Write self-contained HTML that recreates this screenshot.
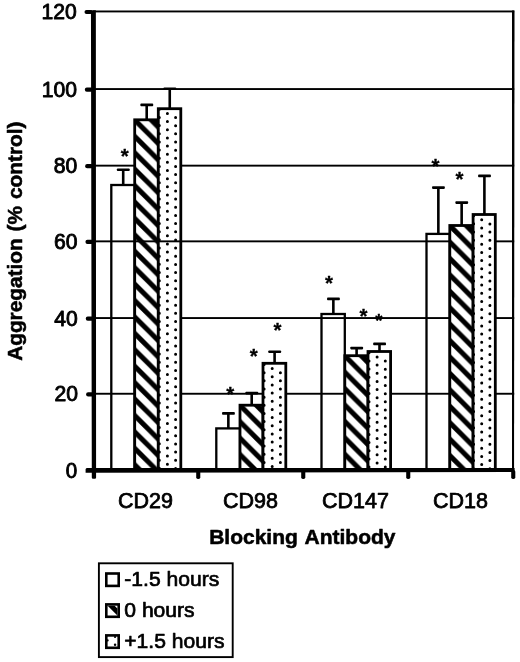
<!DOCTYPE html>
<html lang="en"><head><meta charset="utf-8"><title>Aggregation (% control) by Blocking Antibody</title>
<style>html,body{margin:0;padding:0;background:#fff}body{width:520px;height:662px;overflow:hidden}svg{display:block}text{font-family:"Liberation Sans",Arial,Helvetica,sans-serif;fill:#000;stroke:#000;stroke-width:.9px;stroke-linejoin:round}text.b{font-weight:bold;stroke-width:.55px}</style>
</head><body>
<svg width="520" height="662" viewBox="0 0 520 662">
<rect width="520" height="662" fill="#fff"/>
<rect x="93.0" y="10.50" width="421.20" height="1.9" fill="#000"/>
<rect x="93.0" y="88.10" width="421.20" height="1.9" fill="#000"/>
<rect x="93.0" y="164.70" width="421.20" height="1.9" fill="#000"/>
<rect x="93.0" y="240.40" width="421.20" height="1.9" fill="#000"/>
<rect x="93.0" y="317.10" width="421.20" height="1.9" fill="#000"/>
<rect x="93.0" y="392.80" width="421.20" height="1.9" fill="#000"/>
<path d="M512 10.4H514.5L514.05 472H512z" fill="#000"/>
<rect x="121.90" y="169.60" width="2.6" height="15.00" fill="#000"/>
<rect x="116.90" y="168.40" width="12.8" height="2.6" rx=".8" fill="#000"/>
<rect x="111.30" y="185.00" width="23.40" height="285.00" fill="none" stroke="#000" stroke-width="2.3"/>
<rect x="145.40" y="104.80" width="2.6" height="14.60" fill="#000"/>
<rect x="140.40" y="103.60" width="12.8" height="2.6" rx=".8" fill="#000"/>
<defs><pattern id="h0" patternUnits="userSpaceOnUse" x="0" y="-1.90" width="16.42" height="16.42"><rect width="16.42" height="16.42" fill="#fff"/><path d="M0 0L16.42 16.42V23.520000000000003L0 7.1z M0 -16.42L16.42 0V7.1L0 -9.320000000000002z M0 16.42L16.42 32.84V39.940000000000005L0 23.520000000000003z" fill="#000"/></pattern></defs>
<rect x="134.70" y="119.80" width="23.60" height="350.20" fill="url(#h0)" stroke="#000" stroke-width="2.8"/>
<path d="M151.70 121.00H157.10V126.40z" fill="#000"/>
<rect x="168.45" y="88.70" width="2.6" height="19.60" fill="#000"/>
<rect x="163.45" y="87.50" width="12.8" height="2.6" rx=".8" fill="#000"/>
<rect x="158.30" y="108.70" width="22.50" height="361.30" fill="#fff" stroke="#000" stroke-width="2.8"/>
<path d="M157.80 109.30a1.5 1.5 0 1 0 3 0a1.5 1.5 0 1 0 -3 0zM157.80 117.46a1.5 1.5 0 1 0 3 0a1.5 1.5 0 1 0 -3 0zM157.80 125.62a1.5 1.5 0 1 0 3 0a1.5 1.5 0 1 0 -3 0zM157.80 133.78a1.5 1.5 0 1 0 3 0a1.5 1.5 0 1 0 -3 0zM157.80 141.94a1.5 1.5 0 1 0 3 0a1.5 1.5 0 1 0 -3 0zM157.80 150.10a1.5 1.5 0 1 0 3 0a1.5 1.5 0 1 0 -3 0zM157.80 158.26a1.5 1.5 0 1 0 3 0a1.5 1.5 0 1 0 -3 0zM157.80 166.42a1.5 1.5 0 1 0 3 0a1.5 1.5 0 1 0 -3 0zM157.80 174.58a1.5 1.5 0 1 0 3 0a1.5 1.5 0 1 0 -3 0zM157.80 182.74a1.5 1.5 0 1 0 3 0a1.5 1.5 0 1 0 -3 0zM157.80 190.90a1.5 1.5 0 1 0 3 0a1.5 1.5 0 1 0 -3 0zM157.80 199.06a1.5 1.5 0 1 0 3 0a1.5 1.5 0 1 0 -3 0zM157.80 207.22a1.5 1.5 0 1 0 3 0a1.5 1.5 0 1 0 -3 0zM157.80 215.38a1.5 1.5 0 1 0 3 0a1.5 1.5 0 1 0 -3 0zM157.80 223.54a1.5 1.5 0 1 0 3 0a1.5 1.5 0 1 0 -3 0zM157.80 231.70a1.5 1.5 0 1 0 3 0a1.5 1.5 0 1 0 -3 0zM157.80 239.86a1.5 1.5 0 1 0 3 0a1.5 1.5 0 1 0 -3 0zM157.80 248.02a1.5 1.5 0 1 0 3 0a1.5 1.5 0 1 0 -3 0zM157.80 256.18a1.5 1.5 0 1 0 3 0a1.5 1.5 0 1 0 -3 0zM157.80 264.34a1.5 1.5 0 1 0 3 0a1.5 1.5 0 1 0 -3 0zM157.80 272.50a1.5 1.5 0 1 0 3 0a1.5 1.5 0 1 0 -3 0zM157.80 280.66a1.5 1.5 0 1 0 3 0a1.5 1.5 0 1 0 -3 0zM157.80 288.82a1.5 1.5 0 1 0 3 0a1.5 1.5 0 1 0 -3 0zM157.80 296.98a1.5 1.5 0 1 0 3 0a1.5 1.5 0 1 0 -3 0zM157.80 305.14a1.5 1.5 0 1 0 3 0a1.5 1.5 0 1 0 -3 0zM157.80 313.30a1.5 1.5 0 1 0 3 0a1.5 1.5 0 1 0 -3 0zM157.80 321.46a1.5 1.5 0 1 0 3 0a1.5 1.5 0 1 0 -3 0zM157.80 329.62a1.5 1.5 0 1 0 3 0a1.5 1.5 0 1 0 -3 0zM157.80 337.78a1.5 1.5 0 1 0 3 0a1.5 1.5 0 1 0 -3 0zM157.80 345.94a1.5 1.5 0 1 0 3 0a1.5 1.5 0 1 0 -3 0zM157.80 354.10a1.5 1.5 0 1 0 3 0a1.5 1.5 0 1 0 -3 0zM157.80 362.26a1.5 1.5 0 1 0 3 0a1.5 1.5 0 1 0 -3 0zM157.80 370.42a1.5 1.5 0 1 0 3 0a1.5 1.5 0 1 0 -3 0zM157.80 378.58a1.5 1.5 0 1 0 3 0a1.5 1.5 0 1 0 -3 0zM157.80 386.74a1.5 1.5 0 1 0 3 0a1.5 1.5 0 1 0 -3 0zM157.80 394.90a1.5 1.5 0 1 0 3 0a1.5 1.5 0 1 0 -3 0zM157.80 403.06a1.5 1.5 0 1 0 3 0a1.5 1.5 0 1 0 -3 0zM157.80 411.22a1.5 1.5 0 1 0 3 0a1.5 1.5 0 1 0 -3 0zM157.80 419.38a1.5 1.5 0 1 0 3 0a1.5 1.5 0 1 0 -3 0zM157.80 427.54a1.5 1.5 0 1 0 3 0a1.5 1.5 0 1 0 -3 0zM157.80 435.70a1.5 1.5 0 1 0 3 0a1.5 1.5 0 1 0 -3 0zM157.80 443.86a1.5 1.5 0 1 0 3 0a1.5 1.5 0 1 0 -3 0zM157.80 452.02a1.5 1.5 0 1 0 3 0a1.5 1.5 0 1 0 -3 0zM157.80 460.18a1.5 1.5 0 1 0 3 0a1.5 1.5 0 1 0 -3 0zM157.80 468.34a1.5 1.5 0 1 0 3 0a1.5 1.5 0 1 0 -3 0zM165.90 113.40a1.5 1.5 0 1 0 3 0a1.5 1.5 0 1 0 -3 0zM165.90 121.56a1.5 1.5 0 1 0 3 0a1.5 1.5 0 1 0 -3 0zM165.90 129.72a1.5 1.5 0 1 0 3 0a1.5 1.5 0 1 0 -3 0zM165.90 137.88a1.5 1.5 0 1 0 3 0a1.5 1.5 0 1 0 -3 0zM165.90 146.04a1.5 1.5 0 1 0 3 0a1.5 1.5 0 1 0 -3 0zM165.90 154.20a1.5 1.5 0 1 0 3 0a1.5 1.5 0 1 0 -3 0zM165.90 162.36a1.5 1.5 0 1 0 3 0a1.5 1.5 0 1 0 -3 0zM165.90 170.52a1.5 1.5 0 1 0 3 0a1.5 1.5 0 1 0 -3 0zM165.90 178.68a1.5 1.5 0 1 0 3 0a1.5 1.5 0 1 0 -3 0zM165.90 186.84a1.5 1.5 0 1 0 3 0a1.5 1.5 0 1 0 -3 0zM165.90 195.00a1.5 1.5 0 1 0 3 0a1.5 1.5 0 1 0 -3 0zM165.90 203.16a1.5 1.5 0 1 0 3 0a1.5 1.5 0 1 0 -3 0zM165.90 211.32a1.5 1.5 0 1 0 3 0a1.5 1.5 0 1 0 -3 0zM165.90 219.48a1.5 1.5 0 1 0 3 0a1.5 1.5 0 1 0 -3 0zM165.90 227.64a1.5 1.5 0 1 0 3 0a1.5 1.5 0 1 0 -3 0zM165.90 235.80a1.5 1.5 0 1 0 3 0a1.5 1.5 0 1 0 -3 0zM165.90 243.96a1.5 1.5 0 1 0 3 0a1.5 1.5 0 1 0 -3 0zM165.90 252.12a1.5 1.5 0 1 0 3 0a1.5 1.5 0 1 0 -3 0zM165.90 260.28a1.5 1.5 0 1 0 3 0a1.5 1.5 0 1 0 -3 0zM165.90 268.44a1.5 1.5 0 1 0 3 0a1.5 1.5 0 1 0 -3 0zM165.90 276.60a1.5 1.5 0 1 0 3 0a1.5 1.5 0 1 0 -3 0zM165.90 284.76a1.5 1.5 0 1 0 3 0a1.5 1.5 0 1 0 -3 0zM165.90 292.92a1.5 1.5 0 1 0 3 0a1.5 1.5 0 1 0 -3 0zM165.90 301.08a1.5 1.5 0 1 0 3 0a1.5 1.5 0 1 0 -3 0zM165.90 309.24a1.5 1.5 0 1 0 3 0a1.5 1.5 0 1 0 -3 0zM165.90 317.40a1.5 1.5 0 1 0 3 0a1.5 1.5 0 1 0 -3 0zM165.90 325.56a1.5 1.5 0 1 0 3 0a1.5 1.5 0 1 0 -3 0zM165.90 333.72a1.5 1.5 0 1 0 3 0a1.5 1.5 0 1 0 -3 0zM165.90 341.88a1.5 1.5 0 1 0 3 0a1.5 1.5 0 1 0 -3 0zM165.90 350.04a1.5 1.5 0 1 0 3 0a1.5 1.5 0 1 0 -3 0zM165.90 358.20a1.5 1.5 0 1 0 3 0a1.5 1.5 0 1 0 -3 0zM165.90 366.36a1.5 1.5 0 1 0 3 0a1.5 1.5 0 1 0 -3 0zM165.90 374.52a1.5 1.5 0 1 0 3 0a1.5 1.5 0 1 0 -3 0zM165.90 382.68a1.5 1.5 0 1 0 3 0a1.5 1.5 0 1 0 -3 0zM165.90 390.84a1.5 1.5 0 1 0 3 0a1.5 1.5 0 1 0 -3 0zM165.90 399.00a1.5 1.5 0 1 0 3 0a1.5 1.5 0 1 0 -3 0zM165.90 407.16a1.5 1.5 0 1 0 3 0a1.5 1.5 0 1 0 -3 0zM165.90 415.32a1.5 1.5 0 1 0 3 0a1.5 1.5 0 1 0 -3 0zM165.90 423.48a1.5 1.5 0 1 0 3 0a1.5 1.5 0 1 0 -3 0zM165.90 431.64a1.5 1.5 0 1 0 3 0a1.5 1.5 0 1 0 -3 0zM165.90 439.80a1.5 1.5 0 1 0 3 0a1.5 1.5 0 1 0 -3 0zM165.90 447.96a1.5 1.5 0 1 0 3 0a1.5 1.5 0 1 0 -3 0zM165.90 456.12a1.5 1.5 0 1 0 3 0a1.5 1.5 0 1 0 -3 0zM165.90 464.28a1.5 1.5 0 1 0 3 0a1.5 1.5 0 1 0 -3 0zM174.10 117.50a1.5 1.5 0 1 0 3 0a1.5 1.5 0 1 0 -3 0zM174.10 125.66a1.5 1.5 0 1 0 3 0a1.5 1.5 0 1 0 -3 0zM174.10 133.82a1.5 1.5 0 1 0 3 0a1.5 1.5 0 1 0 -3 0zM174.10 141.98a1.5 1.5 0 1 0 3 0a1.5 1.5 0 1 0 -3 0zM174.10 150.14a1.5 1.5 0 1 0 3 0a1.5 1.5 0 1 0 -3 0zM174.10 158.30a1.5 1.5 0 1 0 3 0a1.5 1.5 0 1 0 -3 0zM174.10 166.46a1.5 1.5 0 1 0 3 0a1.5 1.5 0 1 0 -3 0zM174.10 174.62a1.5 1.5 0 1 0 3 0a1.5 1.5 0 1 0 -3 0zM174.10 182.78a1.5 1.5 0 1 0 3 0a1.5 1.5 0 1 0 -3 0zM174.10 190.94a1.5 1.5 0 1 0 3 0a1.5 1.5 0 1 0 -3 0zM174.10 199.10a1.5 1.5 0 1 0 3 0a1.5 1.5 0 1 0 -3 0zM174.10 207.26a1.5 1.5 0 1 0 3 0a1.5 1.5 0 1 0 -3 0zM174.10 215.42a1.5 1.5 0 1 0 3 0a1.5 1.5 0 1 0 -3 0zM174.10 223.58a1.5 1.5 0 1 0 3 0a1.5 1.5 0 1 0 -3 0zM174.10 231.74a1.5 1.5 0 1 0 3 0a1.5 1.5 0 1 0 -3 0zM174.10 239.90a1.5 1.5 0 1 0 3 0a1.5 1.5 0 1 0 -3 0zM174.10 248.06a1.5 1.5 0 1 0 3 0a1.5 1.5 0 1 0 -3 0zM174.10 256.22a1.5 1.5 0 1 0 3 0a1.5 1.5 0 1 0 -3 0zM174.10 264.38a1.5 1.5 0 1 0 3 0a1.5 1.5 0 1 0 -3 0zM174.10 272.54a1.5 1.5 0 1 0 3 0a1.5 1.5 0 1 0 -3 0zM174.10 280.70a1.5 1.5 0 1 0 3 0a1.5 1.5 0 1 0 -3 0zM174.10 288.86a1.5 1.5 0 1 0 3 0a1.5 1.5 0 1 0 -3 0zM174.10 297.02a1.5 1.5 0 1 0 3 0a1.5 1.5 0 1 0 -3 0zM174.10 305.18a1.5 1.5 0 1 0 3 0a1.5 1.5 0 1 0 -3 0zM174.10 313.34a1.5 1.5 0 1 0 3 0a1.5 1.5 0 1 0 -3 0zM174.10 321.50a1.5 1.5 0 1 0 3 0a1.5 1.5 0 1 0 -3 0zM174.10 329.66a1.5 1.5 0 1 0 3 0a1.5 1.5 0 1 0 -3 0zM174.10 337.82a1.5 1.5 0 1 0 3 0a1.5 1.5 0 1 0 -3 0zM174.10 345.98a1.5 1.5 0 1 0 3 0a1.5 1.5 0 1 0 -3 0zM174.10 354.14a1.5 1.5 0 1 0 3 0a1.5 1.5 0 1 0 -3 0zM174.10 362.30a1.5 1.5 0 1 0 3 0a1.5 1.5 0 1 0 -3 0zM174.10 370.46a1.5 1.5 0 1 0 3 0a1.5 1.5 0 1 0 -3 0zM174.10 378.62a1.5 1.5 0 1 0 3 0a1.5 1.5 0 1 0 -3 0zM174.10 386.78a1.5 1.5 0 1 0 3 0a1.5 1.5 0 1 0 -3 0zM174.10 394.94a1.5 1.5 0 1 0 3 0a1.5 1.5 0 1 0 -3 0zM174.10 403.10a1.5 1.5 0 1 0 3 0a1.5 1.5 0 1 0 -3 0zM174.10 411.26a1.5 1.5 0 1 0 3 0a1.5 1.5 0 1 0 -3 0zM174.10 419.42a1.5 1.5 0 1 0 3 0a1.5 1.5 0 1 0 -3 0zM174.10 427.58a1.5 1.5 0 1 0 3 0a1.5 1.5 0 1 0 -3 0zM174.10 435.74a1.5 1.5 0 1 0 3 0a1.5 1.5 0 1 0 -3 0zM174.10 443.90a1.5 1.5 0 1 0 3 0a1.5 1.5 0 1 0 -3 0zM174.10 452.06a1.5 1.5 0 1 0 3 0a1.5 1.5 0 1 0 -3 0zM174.10 460.22a1.5 1.5 0 1 0 3 0a1.5 1.5 0 1 0 -3 0zM174.10 468.38a1.5 1.5 0 1 0 3 0a1.5 1.5 0 1 0 -3 0z" fill="#000"/>
<rect x="227.05" y="413.30" width="2.6" height="14.70" fill="#000"/>
<rect x="222.05" y="412.10" width="12.8" height="2.6" rx=".8" fill="#000"/>
<rect x="216.30" y="428.40" width="23.70" height="41.60" fill="none" stroke="#000" stroke-width="2.3"/>
<rect x="250.40" y="393.00" width="2.6" height="11.80" fill="#000"/>
<rect x="245.40" y="391.80" width="12.8" height="2.6" rx=".8" fill="#000"/>
<defs><pattern id="h1" patternUnits="userSpaceOnUse" x="0" y="178.20" width="16.42" height="16.42"><rect width="16.42" height="16.42" fill="#fff"/><path d="M0 0L16.42 16.42V23.520000000000003L0 7.1z M0 -16.42L16.42 0V7.1L0 -9.320000000000002z M0 16.42L16.42 32.84V39.940000000000005L0 23.520000000000003z" fill="#000"/></pattern></defs>
<rect x="240.00" y="405.20" width="23.00" height="64.80" fill="url(#h1)" stroke="#000" stroke-width="2.8"/>
<path d="M256.40 406.40H261.80V411.80z" fill="#000"/>
<rect x="273.30" y="351.70" width="2.6" height="11.20" fill="#000"/>
<rect x="268.30" y="350.50" width="12.8" height="2.6" rx=".8" fill="#000"/>
<rect x="263.00" y="363.30" width="22.80" height="106.70" fill="#fff" stroke="#000" stroke-width="2.8"/>
<path d="M262.60 364.50a1.5 1.5 0 1 0 3 0a1.5 1.5 0 1 0 -3 0zM262.60 372.66a1.5 1.5 0 1 0 3 0a1.5 1.5 0 1 0 -3 0zM262.60 380.82a1.5 1.5 0 1 0 3 0a1.5 1.5 0 1 0 -3 0zM262.60 388.98a1.5 1.5 0 1 0 3 0a1.5 1.5 0 1 0 -3 0zM262.60 397.14a1.5 1.5 0 1 0 3 0a1.5 1.5 0 1 0 -3 0zM262.60 405.30a1.5 1.5 0 1 0 3 0a1.5 1.5 0 1 0 -3 0zM262.60 413.46a1.5 1.5 0 1 0 3 0a1.5 1.5 0 1 0 -3 0zM262.60 421.62a1.5 1.5 0 1 0 3 0a1.5 1.5 0 1 0 -3 0zM262.60 429.78a1.5 1.5 0 1 0 3 0a1.5 1.5 0 1 0 -3 0zM262.60 437.94a1.5 1.5 0 1 0 3 0a1.5 1.5 0 1 0 -3 0zM262.60 446.10a1.5 1.5 0 1 0 3 0a1.5 1.5 0 1 0 -3 0zM262.60 454.26a1.5 1.5 0 1 0 3 0a1.5 1.5 0 1 0 -3 0zM262.60 462.42a1.5 1.5 0 1 0 3 0a1.5 1.5 0 1 0 -3 0zM270.70 368.60a1.5 1.5 0 1 0 3 0a1.5 1.5 0 1 0 -3 0zM270.70 376.76a1.5 1.5 0 1 0 3 0a1.5 1.5 0 1 0 -3 0zM270.70 384.92a1.5 1.5 0 1 0 3 0a1.5 1.5 0 1 0 -3 0zM270.70 393.08a1.5 1.5 0 1 0 3 0a1.5 1.5 0 1 0 -3 0zM270.70 401.24a1.5 1.5 0 1 0 3 0a1.5 1.5 0 1 0 -3 0zM270.70 409.40a1.5 1.5 0 1 0 3 0a1.5 1.5 0 1 0 -3 0zM270.70 417.56a1.5 1.5 0 1 0 3 0a1.5 1.5 0 1 0 -3 0zM270.70 425.72a1.5 1.5 0 1 0 3 0a1.5 1.5 0 1 0 -3 0zM270.70 433.88a1.5 1.5 0 1 0 3 0a1.5 1.5 0 1 0 -3 0zM270.70 442.04a1.5 1.5 0 1 0 3 0a1.5 1.5 0 1 0 -3 0zM270.70 450.20a1.5 1.5 0 1 0 3 0a1.5 1.5 0 1 0 -3 0zM270.70 458.36a1.5 1.5 0 1 0 3 0a1.5 1.5 0 1 0 -3 0zM270.70 466.52a1.5 1.5 0 1 0 3 0a1.5 1.5 0 1 0 -3 0zM278.90 372.70a1.5 1.5 0 1 0 3 0a1.5 1.5 0 1 0 -3 0zM278.90 380.86a1.5 1.5 0 1 0 3 0a1.5 1.5 0 1 0 -3 0zM278.90 389.02a1.5 1.5 0 1 0 3 0a1.5 1.5 0 1 0 -3 0zM278.90 397.18a1.5 1.5 0 1 0 3 0a1.5 1.5 0 1 0 -3 0zM278.90 405.34a1.5 1.5 0 1 0 3 0a1.5 1.5 0 1 0 -3 0zM278.90 413.50a1.5 1.5 0 1 0 3 0a1.5 1.5 0 1 0 -3 0zM278.90 421.66a1.5 1.5 0 1 0 3 0a1.5 1.5 0 1 0 -3 0zM278.90 429.82a1.5 1.5 0 1 0 3 0a1.5 1.5 0 1 0 -3 0zM278.90 437.98a1.5 1.5 0 1 0 3 0a1.5 1.5 0 1 0 -3 0zM278.90 446.14a1.5 1.5 0 1 0 3 0a1.5 1.5 0 1 0 -3 0zM278.90 454.30a1.5 1.5 0 1 0 3 0a1.5 1.5 0 1 0 -3 0zM278.90 462.46a1.5 1.5 0 1 0 3 0a1.5 1.5 0 1 0 -3 0z" fill="#000"/>
<rect x="332.05" y="298.80" width="2.6" height="14.80" fill="#000"/>
<rect x="327.05" y="297.60" width="12.8" height="2.6" rx=".8" fill="#000"/>
<rect x="321.50" y="314.00" width="23.30" height="156.00" fill="none" stroke="#000" stroke-width="2.3"/>
<rect x="355.30" y="348.00" width="2.6" height="7.30" fill="#000"/>
<rect x="350.30" y="346.80" width="12.8" height="2.6" rx=".8" fill="#000"/>
<defs><pattern id="h2" patternUnits="userSpaceOnUse" x="0" y="23.90" width="16.42" height="16.42"><rect width="16.42" height="16.42" fill="#fff"/><path d="M0 0L16.42 16.42V23.520000000000003L0 7.1z M0 -16.42L16.42 0V7.1L0 -9.320000000000002z M0 16.42L16.42 32.84V39.940000000000005L0 23.520000000000003z" fill="#000"/></pattern></defs>
<rect x="344.80" y="355.70" width="23.20" height="114.30" fill="url(#h2)" stroke="#000" stroke-width="2.8"/>
<path d="M361.40 356.90H366.80V362.30z" fill="#000"/>
<rect x="378.20" y="343.80" width="2.6" height="7.30" fill="#000"/>
<rect x="373.20" y="342.60" width="12.8" height="2.6" rx=".8" fill="#000"/>
<rect x="368.00" y="351.50" width="22.60" height="118.50" fill="#fff" stroke="#000" stroke-width="2.8"/>
<path d="M367.50 352.80a1.5 1.5 0 1 0 3 0a1.5 1.5 0 1 0 -3 0zM367.50 360.96a1.5 1.5 0 1 0 3 0a1.5 1.5 0 1 0 -3 0zM367.50 369.12a1.5 1.5 0 1 0 3 0a1.5 1.5 0 1 0 -3 0zM367.50 377.28a1.5 1.5 0 1 0 3 0a1.5 1.5 0 1 0 -3 0zM367.50 385.44a1.5 1.5 0 1 0 3 0a1.5 1.5 0 1 0 -3 0zM367.50 393.60a1.5 1.5 0 1 0 3 0a1.5 1.5 0 1 0 -3 0zM367.50 401.76a1.5 1.5 0 1 0 3 0a1.5 1.5 0 1 0 -3 0zM367.50 409.92a1.5 1.5 0 1 0 3 0a1.5 1.5 0 1 0 -3 0zM367.50 418.08a1.5 1.5 0 1 0 3 0a1.5 1.5 0 1 0 -3 0zM367.50 426.24a1.5 1.5 0 1 0 3 0a1.5 1.5 0 1 0 -3 0zM367.50 434.40a1.5 1.5 0 1 0 3 0a1.5 1.5 0 1 0 -3 0zM367.50 442.56a1.5 1.5 0 1 0 3 0a1.5 1.5 0 1 0 -3 0zM367.50 450.72a1.5 1.5 0 1 0 3 0a1.5 1.5 0 1 0 -3 0zM367.50 458.88a1.5 1.5 0 1 0 3 0a1.5 1.5 0 1 0 -3 0zM367.50 467.04a1.5 1.5 0 1 0 3 0a1.5 1.5 0 1 0 -3 0zM375.60 356.90a1.5 1.5 0 1 0 3 0a1.5 1.5 0 1 0 -3 0zM375.60 365.06a1.5 1.5 0 1 0 3 0a1.5 1.5 0 1 0 -3 0zM375.60 373.22a1.5 1.5 0 1 0 3 0a1.5 1.5 0 1 0 -3 0zM375.60 381.38a1.5 1.5 0 1 0 3 0a1.5 1.5 0 1 0 -3 0zM375.60 389.54a1.5 1.5 0 1 0 3 0a1.5 1.5 0 1 0 -3 0zM375.60 397.70a1.5 1.5 0 1 0 3 0a1.5 1.5 0 1 0 -3 0zM375.60 405.86a1.5 1.5 0 1 0 3 0a1.5 1.5 0 1 0 -3 0zM375.60 414.02a1.5 1.5 0 1 0 3 0a1.5 1.5 0 1 0 -3 0zM375.60 422.18a1.5 1.5 0 1 0 3 0a1.5 1.5 0 1 0 -3 0zM375.60 430.34a1.5 1.5 0 1 0 3 0a1.5 1.5 0 1 0 -3 0zM375.60 438.50a1.5 1.5 0 1 0 3 0a1.5 1.5 0 1 0 -3 0zM375.60 446.66a1.5 1.5 0 1 0 3 0a1.5 1.5 0 1 0 -3 0zM375.60 454.82a1.5 1.5 0 1 0 3 0a1.5 1.5 0 1 0 -3 0zM375.60 462.98a1.5 1.5 0 1 0 3 0a1.5 1.5 0 1 0 -3 0zM383.80 361.00a1.5 1.5 0 1 0 3 0a1.5 1.5 0 1 0 -3 0zM383.80 369.16a1.5 1.5 0 1 0 3 0a1.5 1.5 0 1 0 -3 0zM383.80 377.32a1.5 1.5 0 1 0 3 0a1.5 1.5 0 1 0 -3 0zM383.80 385.48a1.5 1.5 0 1 0 3 0a1.5 1.5 0 1 0 -3 0zM383.80 393.64a1.5 1.5 0 1 0 3 0a1.5 1.5 0 1 0 -3 0zM383.80 401.80a1.5 1.5 0 1 0 3 0a1.5 1.5 0 1 0 -3 0zM383.80 409.96a1.5 1.5 0 1 0 3 0a1.5 1.5 0 1 0 -3 0zM383.80 418.12a1.5 1.5 0 1 0 3 0a1.5 1.5 0 1 0 -3 0zM383.80 426.28a1.5 1.5 0 1 0 3 0a1.5 1.5 0 1 0 -3 0zM383.80 434.44a1.5 1.5 0 1 0 3 0a1.5 1.5 0 1 0 -3 0zM383.80 442.60a1.5 1.5 0 1 0 3 0a1.5 1.5 0 1 0 -3 0zM383.80 450.76a1.5 1.5 0 1 0 3 0a1.5 1.5 0 1 0 -3 0zM383.80 458.92a1.5 1.5 0 1 0 3 0a1.5 1.5 0 1 0 -3 0zM383.80 467.08a1.5 1.5 0 1 0 3 0a1.5 1.5 0 1 0 -3 0z" fill="#000"/>
<rect x="437.05" y="187.50" width="2.6" height="46.00" fill="#000"/>
<rect x="432.05" y="186.30" width="12.8" height="2.6" rx=".8" fill="#000"/>
<rect x="426.50" y="233.90" width="23.30" height="236.10" fill="none" stroke="#000" stroke-width="2.3"/>
<rect x="460.35" y="202.50" width="2.6" height="22.60" fill="#000"/>
<rect x="455.35" y="201.30" width="12.8" height="2.6" rx=".8" fill="#000"/>
<defs><pattern id="h3" patternUnits="userSpaceOnUse" x="0" y="-211.30" width="16.42" height="16.42"><rect width="16.42" height="16.42" fill="#fff"/><path d="M0 0L16.42 16.42V23.520000000000003L0 7.1z M0 -16.42L16.42 0V7.1L0 -9.320000000000002z M0 16.42L16.42 32.84V39.940000000000005L0 23.520000000000003z" fill="#000"/></pattern></defs>
<rect x="449.80" y="225.50" width="23.30" height="244.50" fill="url(#h3)" stroke="#000" stroke-width="2.8"/>
<path d="M466.50 226.70H471.90V232.10z" fill="#000"/>
<rect x="483.10" y="175.80" width="2.6" height="38.30" fill="#000"/>
<rect x="478.10" y="174.60" width="12.8" height="2.6" rx=".8" fill="#000"/>
<rect x="473.10" y="214.50" width="22.20" height="255.50" fill="#fff" stroke="#000" stroke-width="2.8"/>
<path d="M472.10 215.70a1.5 1.5 0 1 0 3 0a1.5 1.5 0 1 0 -3 0zM472.10 223.86a1.5 1.5 0 1 0 3 0a1.5 1.5 0 1 0 -3 0zM472.10 232.02a1.5 1.5 0 1 0 3 0a1.5 1.5 0 1 0 -3 0zM472.10 240.18a1.5 1.5 0 1 0 3 0a1.5 1.5 0 1 0 -3 0zM472.10 248.34a1.5 1.5 0 1 0 3 0a1.5 1.5 0 1 0 -3 0zM472.10 256.50a1.5 1.5 0 1 0 3 0a1.5 1.5 0 1 0 -3 0zM472.10 264.66a1.5 1.5 0 1 0 3 0a1.5 1.5 0 1 0 -3 0zM472.10 272.82a1.5 1.5 0 1 0 3 0a1.5 1.5 0 1 0 -3 0zM472.10 280.98a1.5 1.5 0 1 0 3 0a1.5 1.5 0 1 0 -3 0zM472.10 289.14a1.5 1.5 0 1 0 3 0a1.5 1.5 0 1 0 -3 0zM472.10 297.30a1.5 1.5 0 1 0 3 0a1.5 1.5 0 1 0 -3 0zM472.10 305.46a1.5 1.5 0 1 0 3 0a1.5 1.5 0 1 0 -3 0zM472.10 313.62a1.5 1.5 0 1 0 3 0a1.5 1.5 0 1 0 -3 0zM472.10 321.78a1.5 1.5 0 1 0 3 0a1.5 1.5 0 1 0 -3 0zM472.10 329.94a1.5 1.5 0 1 0 3 0a1.5 1.5 0 1 0 -3 0zM472.10 338.10a1.5 1.5 0 1 0 3 0a1.5 1.5 0 1 0 -3 0zM472.10 346.26a1.5 1.5 0 1 0 3 0a1.5 1.5 0 1 0 -3 0zM472.10 354.42a1.5 1.5 0 1 0 3 0a1.5 1.5 0 1 0 -3 0zM472.10 362.58a1.5 1.5 0 1 0 3 0a1.5 1.5 0 1 0 -3 0zM472.10 370.74a1.5 1.5 0 1 0 3 0a1.5 1.5 0 1 0 -3 0zM472.10 378.90a1.5 1.5 0 1 0 3 0a1.5 1.5 0 1 0 -3 0zM472.10 387.06a1.5 1.5 0 1 0 3 0a1.5 1.5 0 1 0 -3 0zM472.10 395.22a1.5 1.5 0 1 0 3 0a1.5 1.5 0 1 0 -3 0zM472.10 403.38a1.5 1.5 0 1 0 3 0a1.5 1.5 0 1 0 -3 0zM472.10 411.54a1.5 1.5 0 1 0 3 0a1.5 1.5 0 1 0 -3 0zM472.10 419.70a1.5 1.5 0 1 0 3 0a1.5 1.5 0 1 0 -3 0zM472.10 427.86a1.5 1.5 0 1 0 3 0a1.5 1.5 0 1 0 -3 0zM472.10 436.02a1.5 1.5 0 1 0 3 0a1.5 1.5 0 1 0 -3 0zM472.10 444.18a1.5 1.5 0 1 0 3 0a1.5 1.5 0 1 0 -3 0zM472.10 452.34a1.5 1.5 0 1 0 3 0a1.5 1.5 0 1 0 -3 0zM472.10 460.50a1.5 1.5 0 1 0 3 0a1.5 1.5 0 1 0 -3 0zM472.10 468.66a1.5 1.5 0 1 0 3 0a1.5 1.5 0 1 0 -3 0zM480.20 219.80a1.5 1.5 0 1 0 3 0a1.5 1.5 0 1 0 -3 0zM480.20 227.96a1.5 1.5 0 1 0 3 0a1.5 1.5 0 1 0 -3 0zM480.20 236.12a1.5 1.5 0 1 0 3 0a1.5 1.5 0 1 0 -3 0zM480.20 244.28a1.5 1.5 0 1 0 3 0a1.5 1.5 0 1 0 -3 0zM480.20 252.44a1.5 1.5 0 1 0 3 0a1.5 1.5 0 1 0 -3 0zM480.20 260.60a1.5 1.5 0 1 0 3 0a1.5 1.5 0 1 0 -3 0zM480.20 268.76a1.5 1.5 0 1 0 3 0a1.5 1.5 0 1 0 -3 0zM480.20 276.92a1.5 1.5 0 1 0 3 0a1.5 1.5 0 1 0 -3 0zM480.20 285.08a1.5 1.5 0 1 0 3 0a1.5 1.5 0 1 0 -3 0zM480.20 293.24a1.5 1.5 0 1 0 3 0a1.5 1.5 0 1 0 -3 0zM480.20 301.40a1.5 1.5 0 1 0 3 0a1.5 1.5 0 1 0 -3 0zM480.20 309.56a1.5 1.5 0 1 0 3 0a1.5 1.5 0 1 0 -3 0zM480.20 317.72a1.5 1.5 0 1 0 3 0a1.5 1.5 0 1 0 -3 0zM480.20 325.88a1.5 1.5 0 1 0 3 0a1.5 1.5 0 1 0 -3 0zM480.20 334.04a1.5 1.5 0 1 0 3 0a1.5 1.5 0 1 0 -3 0zM480.20 342.20a1.5 1.5 0 1 0 3 0a1.5 1.5 0 1 0 -3 0zM480.20 350.36a1.5 1.5 0 1 0 3 0a1.5 1.5 0 1 0 -3 0zM480.20 358.52a1.5 1.5 0 1 0 3 0a1.5 1.5 0 1 0 -3 0zM480.20 366.68a1.5 1.5 0 1 0 3 0a1.5 1.5 0 1 0 -3 0zM480.20 374.84a1.5 1.5 0 1 0 3 0a1.5 1.5 0 1 0 -3 0zM480.20 383.00a1.5 1.5 0 1 0 3 0a1.5 1.5 0 1 0 -3 0zM480.20 391.16a1.5 1.5 0 1 0 3 0a1.5 1.5 0 1 0 -3 0zM480.20 399.32a1.5 1.5 0 1 0 3 0a1.5 1.5 0 1 0 -3 0zM480.20 407.48a1.5 1.5 0 1 0 3 0a1.5 1.5 0 1 0 -3 0zM480.20 415.64a1.5 1.5 0 1 0 3 0a1.5 1.5 0 1 0 -3 0zM480.20 423.80a1.5 1.5 0 1 0 3 0a1.5 1.5 0 1 0 -3 0zM480.20 431.96a1.5 1.5 0 1 0 3 0a1.5 1.5 0 1 0 -3 0zM480.20 440.12a1.5 1.5 0 1 0 3 0a1.5 1.5 0 1 0 -3 0zM480.20 448.28a1.5 1.5 0 1 0 3 0a1.5 1.5 0 1 0 -3 0zM480.20 456.44a1.5 1.5 0 1 0 3 0a1.5 1.5 0 1 0 -3 0zM480.20 464.60a1.5 1.5 0 1 0 3 0a1.5 1.5 0 1 0 -3 0zM488.40 223.90a1.5 1.5 0 1 0 3 0a1.5 1.5 0 1 0 -3 0zM488.40 232.06a1.5 1.5 0 1 0 3 0a1.5 1.5 0 1 0 -3 0zM488.40 240.22a1.5 1.5 0 1 0 3 0a1.5 1.5 0 1 0 -3 0zM488.40 248.38a1.5 1.5 0 1 0 3 0a1.5 1.5 0 1 0 -3 0zM488.40 256.54a1.5 1.5 0 1 0 3 0a1.5 1.5 0 1 0 -3 0zM488.40 264.70a1.5 1.5 0 1 0 3 0a1.5 1.5 0 1 0 -3 0zM488.40 272.86a1.5 1.5 0 1 0 3 0a1.5 1.5 0 1 0 -3 0zM488.40 281.02a1.5 1.5 0 1 0 3 0a1.5 1.5 0 1 0 -3 0zM488.40 289.18a1.5 1.5 0 1 0 3 0a1.5 1.5 0 1 0 -3 0zM488.40 297.34a1.5 1.5 0 1 0 3 0a1.5 1.5 0 1 0 -3 0zM488.40 305.50a1.5 1.5 0 1 0 3 0a1.5 1.5 0 1 0 -3 0zM488.40 313.66a1.5 1.5 0 1 0 3 0a1.5 1.5 0 1 0 -3 0zM488.40 321.82a1.5 1.5 0 1 0 3 0a1.5 1.5 0 1 0 -3 0zM488.40 329.98a1.5 1.5 0 1 0 3 0a1.5 1.5 0 1 0 -3 0zM488.40 338.14a1.5 1.5 0 1 0 3 0a1.5 1.5 0 1 0 -3 0zM488.40 346.30a1.5 1.5 0 1 0 3 0a1.5 1.5 0 1 0 -3 0zM488.40 354.46a1.5 1.5 0 1 0 3 0a1.5 1.5 0 1 0 -3 0zM488.40 362.62a1.5 1.5 0 1 0 3 0a1.5 1.5 0 1 0 -3 0zM488.40 370.78a1.5 1.5 0 1 0 3 0a1.5 1.5 0 1 0 -3 0zM488.40 378.94a1.5 1.5 0 1 0 3 0a1.5 1.5 0 1 0 -3 0zM488.40 387.10a1.5 1.5 0 1 0 3 0a1.5 1.5 0 1 0 -3 0zM488.40 395.26a1.5 1.5 0 1 0 3 0a1.5 1.5 0 1 0 -3 0zM488.40 403.42a1.5 1.5 0 1 0 3 0a1.5 1.5 0 1 0 -3 0zM488.40 411.58a1.5 1.5 0 1 0 3 0a1.5 1.5 0 1 0 -3 0zM488.40 419.74a1.5 1.5 0 1 0 3 0a1.5 1.5 0 1 0 -3 0zM488.40 427.90a1.5 1.5 0 1 0 3 0a1.5 1.5 0 1 0 -3 0zM488.40 436.06a1.5 1.5 0 1 0 3 0a1.5 1.5 0 1 0 -3 0zM488.40 444.22a1.5 1.5 0 1 0 3 0a1.5 1.5 0 1 0 -3 0zM488.40 452.38a1.5 1.5 0 1 0 3 0a1.5 1.5 0 1 0 -3 0zM488.40 460.54a1.5 1.5 0 1 0 3 0a1.5 1.5 0 1 0 -3 0zM488.40 468.70a1.5 1.5 0 1 0 3 0a1.5 1.5 0 1 0 -3 0z" fill="#000"/>
<rect x="134" y="240.40" width="48" height="1.9" fill="#000"/>
<path d="M90.95 10.2H95.85L96.1 477.6Q96.1 478.8 94.9 478.8H93Q91.8 478.8 91.8 477.6z" fill="#000"/>
<path d="M86.6 468H514.6V471.9L85.6 472.8V469z" fill="#000"/>
<rect x="84.50" y="9.90" width="8" height="4.2" rx="2" fill="#000"/>
<rect x="84.83" y="87.50" width="8" height="4.2" rx="2" fill="#000"/>
<rect x="85.15" y="164.10" width="8" height="4.2" rx="2" fill="#000"/>
<rect x="85.46" y="239.80" width="8" height="4.2" rx="2" fill="#000"/>
<rect x="85.78" y="316.50" width="8" height="4.2" rx="2" fill="#000"/>
<rect x="86.10" y="392.20" width="8" height="4.2" rx="2" fill="#000"/>
<rect x="196.20" y="470" width="4.1" height="8.9" rx="1.7" fill="#000"/>
<rect x="301.20" y="470" width="4.1" height="8.9" rx="1.7" fill="#000"/>
<rect x="406.20" y="470" width="4.1" height="8.9" rx="1.7" fill="#000"/>
<rect x="511.20" y="470" width="4.1" height="8.9" rx="1.7" fill="#000"/>
<text transform="translate(76.8 19.00) scale(.965 1)" font-size="21.9" text-anchor="end">120</text>
<text transform="translate(77.06 96.60) scale(.965 1)" font-size="21.9" text-anchor="end">100</text>
<text transform="translate(77.32 173.20) scale(.965 1)" font-size="21.9" text-anchor="end">80</text>
<text transform="translate(77.58 248.90) scale(.965 1)" font-size="21.9" text-anchor="end">60</text>
<text transform="translate(77.84 325.60) scale(.965 1)" font-size="21.9" text-anchor="end">40</text>
<text transform="translate(78.1 401.30) scale(.965 1)" font-size="21.9" text-anchor="end">20</text>
<text transform="translate(77.1 477.60) scale(.965 1)" font-size="21.3" text-anchor="end">0</text>
<text x="145.5" y="508.3" font-size="21.5" text-anchor="middle" style="stroke-width:.75px">CD29</text>
<text x="250.5" y="508.3" font-size="21.5" text-anchor="middle" style="stroke-width:.75px">CD98</text>
<text x="355.5" y="508.3" font-size="21.5" text-anchor="middle" style="stroke-width:.75px">CD147</text>
<text x="460.5" y="508.3" font-size="21.5" text-anchor="middle" style="stroke-width:.75px">CD18</text>
<text class="b" x="209.2" y="544.2" font-size="21" word-spacing="1.6">Blocking Antibody</text>
<text class="b" transform="translate(22.4 241.2) rotate(-90)" font-size="20.8" word-spacing="1.2" text-anchor="middle">Aggregation (% control)</text>
<text class="b" x="124.85" y="162.57" font-size="20.5" text-anchor="middle" style="stroke-width:.3px">*</text>
<text class="b" x="230.3" y="400.67" font-size="20.5" text-anchor="middle" style="stroke-width:.3px">*</text>
<text class="b" x="253.8" y="362.57" font-size="20.5" text-anchor="middle" style="stroke-width:.3px">*</text>
<text class="b" x="277.5" y="336.57" font-size="20.5" text-anchor="middle" style="stroke-width:.3px">*</text>
<text class="b" x="329.1" y="289.57" font-size="20.5" text-anchor="middle" style="stroke-width:.3px">*</text>
<text class="b" x="363.5" y="323.07" font-size="20.5" text-anchor="middle" style="stroke-width:.3px">*</text>
<text class="b" x="378.9" y="326.56" font-size="18.45" text-anchor="middle" style="stroke-width:.3px">*</text>
<text class="b" x="435.5" y="173.37" font-size="20.5" text-anchor="middle" style="stroke-width:.3px">*</text>
<text class="b" x="459.5" y="185.87" font-size="20.5" text-anchor="middle" style="stroke-width:.3px">*</text>
<rect x="98.9" y="563.3" width="133.8" height="93.8" fill="#fff" stroke="#000" stroke-width="1.9"/>
<rect x="106.3" y="573.50" width="12.4" height="12.4" fill="#fff" stroke="#000" stroke-width="2.6"/>
<text x="124.3" y="585.90" font-size="21.1" style="stroke-width:.7px">-1.5 hours</text>
<rect x="106.3" y="604.40" width="12.4" height="12.4" fill="#fff" stroke="#000" stroke-width="2.6"/>
<path d="M107.6 605.70h7l2.8 2.8v7z" fill="#000"/>
<text x="124.3" y="617.40" font-size="21.1" style="stroke-width:.7px">0 hours</text>
<rect x="106.3" y="635.40" width="12.4" height="12.4" fill="#fff" stroke="#000" stroke-width="2.6"/>
<circle cx="115.05" cy="644.80" r="1.25" fill="#000"/><circle cx="115.05" cy="637.00" r="1.1" fill="#000"/><circle cx="107.6" cy="640.40" r="1.1" fill="#000"/>
<text x="124.3" y="648.40" font-size="21.1" style="stroke-width:.7px">+1.5 hours</text>
</svg>
</body></html>
